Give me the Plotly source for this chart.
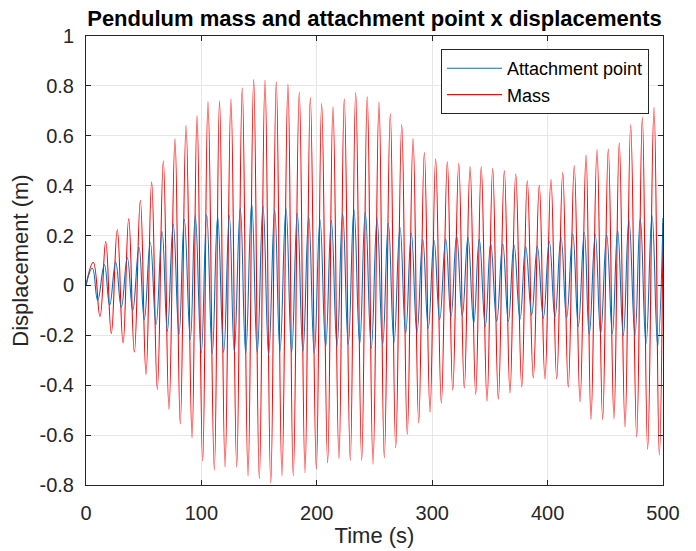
import plotly.graph_objects as go

# ---- data (peaks / troughs of each oscillation) ----
mass_peak_t = [6.3, 17.1, 27.1, 37.0, 47.1, 56.9, 67.0, 77.1, 86.7, 96.2, 105.7, 115.7, 125.6, 135.4, 145.3,
               155.1, 164.9, 175.0, 184.8, 194.4, 204.2, 214.0, 223.8, 233.7, 243.7, 253.9, 263.7, 273.6, 283.4,
               293.2, 303.0, 313.1, 323.0, 332.8, 342.5, 352.4, 362.5, 372.4, 382.4, 392.8, 402.9, 413.1, 423.1,
               433.3, 442.8, 452.6, 462.1, 472.0, 482.1, 492.2]
mass_peak_v = [0.092, 0.176, 0.223, 0.267, 0.341, 0.415, 0.499, 0.588, 0.641, 0.681, 0.736, 0.740, 0.747, 0.792,
               0.825, 0.823, 0.816, 0.807, 0.775, 0.753, 0.729, 0.716, 0.747, 0.773, 0.756, 0.735, 0.688, 0.645,
               0.589, 0.533, 0.508, 0.496, 0.489, 0.476, 0.476, 0.469, 0.460, 0.447, 0.420, 0.401, 0.425, 0.453,
               0.480, 0.523, 0.545, 0.547, 0.572, 0.643, 0.673, 0.713]
mass_trough_t = [12.1, 21.9, 32.1, 41.9, 52.0, 61.8, 71.9, 81.7, 91.9, 101.1, 111.2, 120.5, 130.6, 140.4, 150.2,
                 160.1, 169.8, 179.6, 189.8, 199.6, 209.4, 219.2, 229.0, 238.9, 248.7, 258.5, 268.4, 278.4, 288.3,
                 298.1, 307.9, 317.8, 327.8, 337.7, 347.5, 357.3, 367.4, 377.6, 387.6, 397.7, 407.9, 417.9, 428.1,
                 437.6, 447.7, 457.5, 467.1, 477.2, 486.7, 496.8]
mass_trough_v = [-0.124, -0.193, -0.231, -0.267, -0.357, -0.417, -0.497, -0.555, -0.611, -0.704, -0.740, -0.728,
                 -0.728, -0.764, -0.775, -0.793, -0.764, -0.764, -0.751, -0.737, -0.711, -0.695, -0.701, -0.701,
                 -0.717, -0.691, -0.651, -0.597, -0.551, -0.508, -0.471, -0.420, -0.411, -0.437, -0.464, -0.455,
                 -0.431, -0.407, -0.371, -0.375, -0.375, -0.407, -0.467, -0.537, -0.537, -0.535, -0.567, -0.607,
                 -0.657, -0.681]
mass_start = (0.0, 0.0)
mass_end = (500.0, 0.25)

att_peak_t = [5.5, 15.9, 25.7, 35.8, 45.9, 55.7, 65.9, 75.6, 85.2, 94.7, 104.6, 114.1, 124.2, 133.7, 143.6,
              153.4, 163.5, 173.3, 183.1, 193.0, 202.8, 212.6, 222.4, 232.2, 242.0, 252.2, 262.0, 272.1, 281.9,
              291.8, 301.6, 311.7, 321.2, 331.0, 340.8, 350.7, 361.1, 370.9, 381.0, 391.1, 401.5, 411.6, 421.8,
              431.8, 441.3, 451.2, 460.7, 470.5, 480.3, 490.5]
att_peak_v = [0.069, 0.083, 0.093, 0.111, 0.153, 0.172, 0.216, 0.245, 0.265, 0.280, 0.283, 0.275, 0.280,
              0.309, 0.327, 0.319, 0.303, 0.309, 0.289, 0.276, 0.263, 0.260, 0.289, 0.305, 0.293,
              0.269, 0.249, 0.233, 0.209, 0.185, 0.180, 0.185, 0.199, 0.193, 0.185, 0.169, 0.167,
              0.163, 0.156, 0.156, 0.176, 0.193, 0.207, 0.212, 0.203, 0.203, 0.220, 0.263, 0.268, 0.279]
att_trough_t = [10.1, 20.5, 30.6, 40.5, 50.5, 60.7, 70.5, 80.6, 90.4, 99.9, 109.4, 119.3, 128.5, 138.4, 148.4,
                158.3, 168.1, 178.2, 188.0, 197.8, 207.7, 217.5, 227.3, 237.2, 247.2, 257.1, 266.9, 277.0, 286.8,
                296.6, 306.5, 316.3, 326.1, 336.0, 346.0, 355.9, 366.0, 376.1, 386.2, 396.3, 406.4, 416.5, 426.6,
                436.1, 446.0, 456.1, 465.6, 475.7, 485.3, 495.4]
att_trough_v = [-0.060, -0.079, -0.087, -0.100, -0.137, -0.157, -0.184, -0.197, -0.217, -0.268, -0.273, -0.267,
                -0.264, -0.271, -0.268, -0.277, -0.264, -0.268, -0.264, -0.271, -0.244, -0.244, -0.237, -0.233,
                -0.251, -0.237, -0.228, -0.191, -0.191, -0.171, -0.137, -0.127, -0.121, -0.151, -0.164, -0.144,
                -0.144, -0.135, -0.117, -0.131, -0.127, -0.131, -0.164, -0.197, -0.193, -0.193, -0.201, -0.201,
                -0.233, -0.241]
att_start = (0.0, 0.0)
att_end = (500.0, 0.27)

x_ticks = [0, 100, 200, 300, 400, 500]
x_ticklabels = ["0", "100", "200", "300", "400", "500"]
y_ticks = [-0.8, -0.6, -0.4, -0.2, 0, 0.2, 0.4, 0.6, 0.8, 1]
y_ticklabels = ["-0.8", "-0.6", "-0.4", "-0.2", "0", "0.2", "0.4", "0.6", "0.8", "1"]

series_names = ["Attachment point", "Mass"]
series_colors = ["#0072BD", "#FF0000"]


def build(start, pt, pv, tt, tv, end):
    pts = [start] + list(zip(pt, pv)) + list(zip(tt, tv)) + [end]
    pts.sort(key=lambda p: p[0])
    return [p[0] for p in pts], [p[1] for p in pts]


mx, my = build(mass_start, mass_peak_t, mass_peak_v, mass_trough_t, mass_trough_v, mass_end)
ax, ay = build(att_start, att_peak_t, att_peak_v, att_trough_t, att_trough_v, att_end)

font_family = "Liberation Sans, Arial, Helvetica, sans-serif"

fig = go.Figure()
fig.add_trace(go.Scatter(x=mx, y=my, mode="lines", name=series_names[1], legendrank=2,
                         line=dict(color=series_colors[1], width=1.1, shape="spline", smoothing=1.3)))
fig.add_trace(go.Scatter(x=ax, y=ay, mode="lines", name=series_names[0], legendrank=1,
                         line=dict(color=series_colors[0], width=1.1, shape="spline", smoothing=1.3)))

axis_common = dict(
    showline=True, linecolor="#262626", linewidth=1, mirror="ticks",
    ticks="inside", ticklen=5, tickcolor="#262626", tickwidth=1,
    showgrid=True, gridcolor="#e6e6e6", gridwidth=1, zeroline=False,
    automargin=False,
    tickfont=dict(family=font_family, size=20, color="#262626"),
)

fig.update_layout(
    width=696, height=551,
    margin=dict(l=86, r=33, t=36, b=66),
    paper_bgcolor="white", plot_bgcolor="white",
    font=dict(family=font_family, color="#262626"),
    title=dict(text="<b>Pendulum mass and attachment point x displacements</b>",
               font=dict(family=font_family, size=22, color="black"),
               x=(86 + 663) / 2 / 696, xanchor="center", y=1 - 18 / 551, yanchor="middle"),
    xaxis=dict(range=[0, 500], tickvals=x_ticks, ticktext=x_ticklabels,
               title=dict(text="Time (s)", font=dict(family=font_family, size=22, color="#262626"), standoff=4),
               ticklabelstandoff=10, **axis_common),
    yaxis=dict(range=[-0.8, 1], tickvals=y_ticks, ticktext=y_ticklabels,
               title=dict(text="Displacement (m)", font=dict(family=font_family, size=22, color="#262626"), standoff=4),
               ticklabelstandoff=7, **axis_common),
    legend=dict(x=0.9757, xanchor="right", y=0.971, yanchor="top",
                bgcolor="white", bordercolor="#262626", borderwidth=1,
                font=dict(family=font_family, size=18, color="black"),
                tracegroupgap=0, itemwidth=55),
    showlegend=True,
)

fig.write_html("out.html")
